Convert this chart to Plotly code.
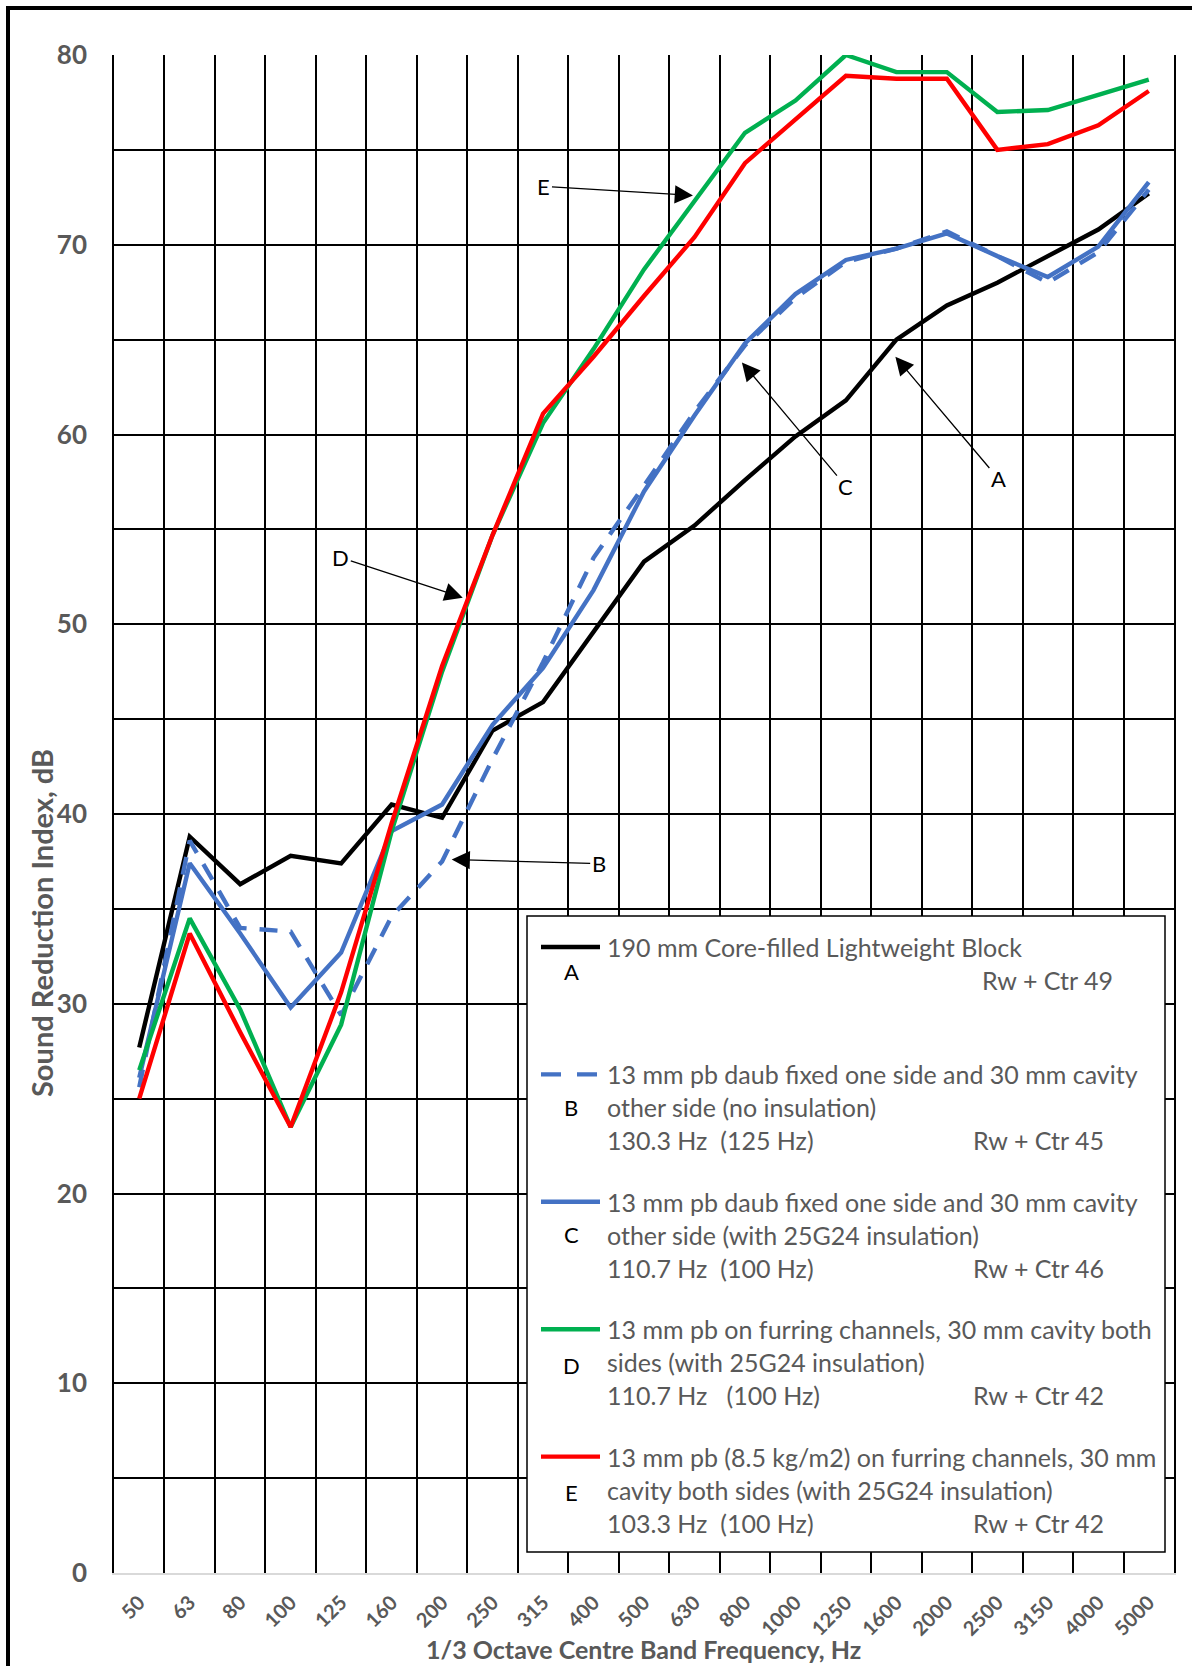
import plotly.graph_objects as go

# ---------------- data ----------------
freqs = ["50", "63", "80", "100", "125", "160", "200", "250", "315", "400", "500",
         "630", "800", "1000", "1250", "1600", "2000", "2500", "3150", "4000", "5000"]

sri_a = [27.7, 38.8, 36.3, 37.8, 37.4, 40.5, 39.8, 44.4, 45.9, 49.6, 53.3,
         55.2, 57.6, 59.9, 61.8, 65.0, 66.8, 68.0, 69.4, 70.8, 72.7]
sri_b = [25.6, 38.6, 34.0, 33.8, 29.4, 34.6, 37.5, 42.9, 48.0, 53.5, 57.3,
         61.2, 64.7, 67.2, 69.1, 69.8, 70.7, 69.4, 68.0, 69.6, 72.9]
sri_c = [26.1, 37.4, 33.7, 29.8, 32.7, 39.1, 40.5, 44.7, 47.7, 51.8, 57.0,
         61.0, 64.8, 67.4, 69.2, 69.8, 70.6, 69.4, 68.3, 69.9, 73.3]
sri_d = [26.5, 34.5, 29.7, 23.5, 28.9, 39.1, 47.5, 54.7, 60.6, 64.5, 68.7,
         72.3, 75.9, 77.6, 80.0, 79.1, 79.1, 77.0, 77.1, 77.9, 78.7]
sri_e = [25.0, 33.7, 28.5, 23.5, 30.6, 39.5, 47.8, 54.7, 61.1, 64.1, 67.3,
         70.4, 74.3, 76.6, 78.9, 78.75, 78.75, 75.0, 75.3, 76.3, 78.1]

y_ticks = [0, 10, 20, 30, 40, 50, 60, 70, 80]

series_letters = ["A", "B", "C", "D", "E"]
series_names = [
    "190 mm Core-filled Lightweight Block",
    "13 mm pb daub fixed one side and 30 mm cavity other side (no insulation)",
    "13 mm pb daub fixed one side and 30 mm cavity other side (with 25G24 insulation)",
    "13 mm pb on furring channels, 30 mm cavity both sides (with 25G24 insulation)",
    "13 mm pb (8.5 kg/m2) on furring channels, 30 mm cavity both sides (with 25G24 insulation)",
]
legend_lines = [
    ["190 mm Core-filled Lightweight Block"],
    ["13 mm pb daub fixed one side and 30 mm cavity",
     "other side (no insulation)",
     "130.3 Hz\u00a0\u00a0(125 Hz)"],
    ["13 mm pb daub fixed one side and 30 mm cavity",
     "other side (with 25G24 insulation)",
     "110.7 Hz\u00a0\u00a0(100 Hz)"],
    ["13 mm pb on furring channels, 30 mm cavity both",
     "sides (with 25G24 insulation)",
     "110.7 Hz\u00a0\u00a0\u00a0(100 Hz)"],
    ["13 mm pb (8.5 kg/m2) on furring channels, 30 mm",
     "cavity both sides (with 25G24 insulation)",
     "103.3 Hz\u00a0\u00a0(100 Hz)"],
]
legend_rw = ["Rw + Ctr 49", "Rw + Ctr 45", "Rw + Ctr 46", "Rw + Ctr 42", "Rw + Ctr 42"]

x_title = "1/3 Octave Centre Band Frequency, Hz"
y_title = "Sound Reduction Index, dB"

# ---------------- styling / layout ----------------
W, H = 1192, 1666
ML, MR, MT, MB = 114, 18, 55, 93
PL, PR, PT, PB = ML, W - MR, MT, H - MB

def fx(px):
    return (px - PL) / (PR - PL)

def fy(py):
    return (PB - py) / (PB - PT)

FONT = "Lato, 'Open Sans', sans-serif"
GREY = "#595959"
colors = ["#000000", "#4472C4", "#4472C4", "#00B050", "#FF0000"]
dashes = ["solid", "18px,13px", "solid", "solid", "solid"]
series_values = [sri_a, sri_b, sri_c, sri_d, sri_e]

fig = go.Figure()
for name, vals, col, dsh in zip(series_names, series_values, colors, dashes):
    fig.add_trace(go.Scatter(
        x=freqs, y=vals, mode="lines", name=name,
        line=dict(color=col, width=4.4, dash=dsh),
        showlegend=False, hoverinfo="x+y+name",
    ))

shapes = []
annotations = []

# outer chart border (top / left visible)
shapes.append(dict(type="rect", xref="paper", yref="paper",
                   x0=fx(8), x1=fx(1260), y0=fy(1760), y1=fy(8),
                   line=dict(color="black", width=4), fillcolor="rgba(0,0,0,0)",
                   layer="above"))

# legend box
shapes.append(dict(type="rect", xref="paper", yref="paper",
                   x0=fx(527), x1=fx(1165), y0=fy(1552), y1=fy(916),
                   line=dict(color="black", width=1.5), fillcolor="white",
                   layer="above"))

entry_top = 947
entry_step = 127.4
line_step = 33
for i in range(5):
    y0 = entry_top + i * entry_step
    shapes.append(dict(type="line", xref="paper", yref="paper",
                       x0=fx(541), x1=fx(600), y0=fy(y0), y1=fy(y0),
                       line=dict(color=colors[i], width=4.4,
                                 dash=("20px,16px" if dashes[i] != "solid" else "solid")),
                       layer="above"))
    for j, txt in enumerate(legend_lines[i]):
        annotations.append(dict(xref="paper", yref="paper", x=fx(605), y=fy(y0 + j * line_step),
                                text=txt, showarrow=False, xanchor="left", yanchor="middle",
                                font=dict(family=FONT, size=25, color=GREY)))
    rw_line = 1 if i == 0 else 2
    rw_cx = 1047 if i == 0 else 1038
    annotations.append(dict(xref="paper", yref="paper", x=fx(rw_cx), y=fy(y0 + rw_line * line_step),
                            text=legend_rw[i], showarrow=False, xanchor="center", yanchor="middle",
                            font=dict(family=FONT, size=25, color=GREY)))
    letter_dy = 25 if i == 0 else 33
    annotations.append(dict(xref="paper", yref="paper", x=fx(571), y=fy(y0 + letter_dy + (3 if i >= 3 else 0)),
                            text=series_letters[i], showarrow=False, xanchor="center", yanchor="middle",
                            font=dict(family=FONT, size=22, color="black")))

# pointer labels on the plot (arrow tip in data coordinates: category index, dB)
pointers = [
    ("E", 10.97, 72.6, -149, -9),
    ("D", 6.41, 51.4, -122, -40),
    ("C", 11.94, 63.8, 104, 124),
    ("A", 14.98, 64.1, 103, 122),
    ("B", 6.19, 37.6, 147, 4),
]
for lab, xi, yv, ax, ay in pointers:
    annotations.append(dict(xref="x", yref="y", x=xi, y=yv, text=lab,
                            showarrow=True, arrowhead=2, arrowsize=2.8, arrowwidth=1.3,
                            arrowcolor="black", ax=ax, ay=ay, standoff=0,
                            font=dict(family=FONT, size=22, color="black")))

# axis titles
annotations.append(dict(xref="paper", yref="paper", x=fx(42), y=fy(923), text=y_title,
                        textangle=-90, showarrow=False, xanchor="center", yanchor="middle",
                        font=dict(family=FONT, size=29, color=GREY, weight="bold")))
annotations.append(dict(xref="paper", yref="paper", x=fx(643), y=fy(1649), text=x_title,
                        showarrow=False, xanchor="center", yanchor="middle",
                        font=dict(family=FONT, size=25, color=GREY, weight="bold")))

fig.update_layout(
    width=W, height=H,
    margin=dict(l=ML, r=MR, t=MT, b=MB, pad=0),
    paper_bgcolor="white", plot_bgcolor="white",
    showlegend=False,
    shapes=shapes, annotations=annotations,
    xaxis=dict(
        type="category", categoryorder="array", categoryarray=freqs,
        range=[-0.5, len(freqs) - 0.5], tickson="boundaries",
        showgrid=True, gridcolor="black", gridwidth=1.6,
        ticks="", tickangle=-45, ticklabelstandoff=8,
        tickfont=dict(family=FONT, size=20, color=GREY, weight="bold"),
        showline=True, linecolor="#D9D9D9", linewidth=2,
        zeroline=False, fixedrange=True,
    ),
    yaxis=dict(
        range=[0, 80], tickmode="array", tickvals=y_ticks,
        showgrid=True, gridcolor="black", gridwidth=1.6,
        minor=dict(dtick=5, showgrid=True, gridcolor="black", gridwidth=1.6, ticks=""),
        ticks="", ticklabelstandoff=20,
        tickfont=dict(family=FONT, size=26, color=GREY, weight="bold"),
        showline=True, linecolor="black", linewidth=1.6, mirror=True,
        zeroline=False, fixedrange=True,
    ),
)

fig.write_html("out.html", config={"displayModeBar": False},
               post_script="document.body.style.margin='0';document.body.style.overflow='hidden';")
